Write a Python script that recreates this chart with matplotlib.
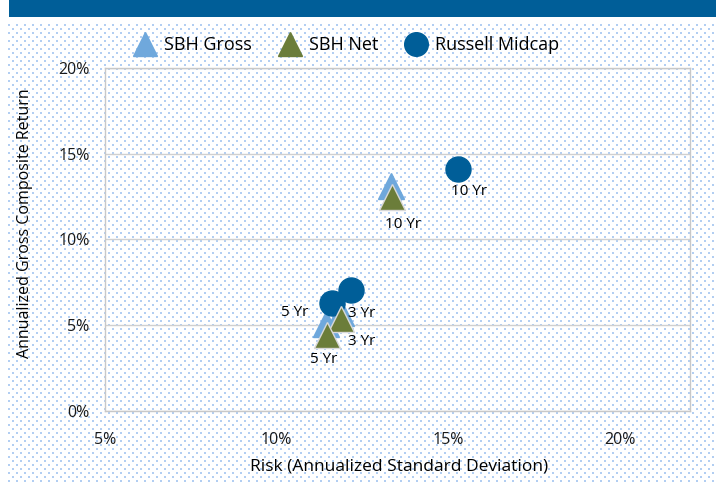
import matplotlib
matplotlib.use("Agg")
import matplotlib.pyplot as plt
from matplotlib.lines import Line2D
from matplotlib.ticker import FuncFormatter
import numpy as np

# risk (x) and return (y) in percent, order: 3 Yr, 5 Yr, 10 Yr
periods = ["3 Yr", "5 Yr", "10 Yr"]
gross_risk = [11.88, 11.45, 13.34]
gross_ret = [5.7, 5.09, 13.1]
net_risk = [11.88, 11.46, 13.37]
net_ret = [5.39, 4.43, 12.48]
russell_risk = [12.17, 11.61, 15.3]
russell_ret = [7.05, 6.28, 14.09]

x_ticks = [5, 10, 15, 20]
y_ticks = [0, 5, 10, 15, 20]

dark_blue = "#005e98"
light_blue = "#6fa8dc"
green = "#6b7d3a"
font = "Open Sans"
plt.rcParams["font.family"] = [font, "DejaVu Sans"]

W, H = 716, 482
fig = plt.figure(figsize=(W / 100, H / 100), dpi=100, facecolor="white")

# dotted background pattern + banner
img = np.ones((H, W, 3))
yy, xx = np.mgrid[0:H, 0:W]
dots = (yy % 4 < 2) & (((xx + 4 * ((yy // 4) % 2)) % 8) < 2) & (xx >= 8) & (yy >= 22)
img[dots] = (0.70, 0.81, 0.95)
img[0:17, 9:] = matplotlib.colors.to_rgb(dark_blue)
fig.figimage(img, xo=0, yo=0, origin="upper", zorder=0)

ax = fig.add_axes([105 / W, 1 - 411 / H, 585 / W, 343 / H], zorder=2)
ax.patch.set_alpha(0)
ax.set_xlim(5, 22.05)
ax.set_ylim(0, 20)
ax.set_xticks(x_ticks)
ax.set_yticks(y_ticks)
pct = FuncFormatter(lambda v, p: f"{v:.0f}%")
ax.xaxis.set_major_formatter(pct)
ax.yaxis.set_major_formatter(pct)
ax.tick_params(length=0, labelsize=11.5, colors="#1a1a1a")
ax.tick_params(axis="x", pad=15)
ax.tick_params(axis="y", pad=11)
ax.grid(axis="y", color="#d0d0d0", lw=1)
ax.set_axisbelow(True)
for s in ax.spines.values():
    s.set_color("#c8c8c8")
    s.set_linewidth(1)

ms = 19
ax.plot(gross_risk, gross_ret, "^", ms=ms, color=light_blue, mec=light_blue, zorder=3)
ax.plot(russell_risk, russell_ret, "o", ms=18, color=dark_blue, mec=dark_blue, zorder=4)
ax.plot(net_risk, net_ret, "^", ms=ms, color=green, mec="#d8d8d8", mew=1, zorder=5)

# data labels (offsets in pixels)
russell_off = [(11, -23), (-37, -9), (11, -22)]
net_off = [(21, -23), (-3, -24), (11, -28)]
for i, p in enumerate(periods):
    ax.annotate(p, (russell_risk[i], russell_ret[i]), xytext=russell_off[i],
                textcoords="offset pixels", ha="center", va="center", fontsize=11, zorder=6)
    ax.annotate(p, (net_risk[i], net_ret[i]), xytext=net_off[i],
                textcoords="offset pixels", ha="center", va="center", fontsize=11, zorder=6)

ax.set_xlabel("Risk (Annualized Standard Deviation)", fontsize=12.5, va="center")
ax.xaxis.set_label_coords(0.503, -0.163)
ax.set_ylabel("Annualized Gross Composite Return", fontsize=11.5, va="center")
ax.yaxis.set_label_coords(-0.137, 0.548)

handles = [
    Line2D([], [], ls="", marker="^", ms=17, color=light_blue, label="SBH Gross"),
    Line2D([], [], ls="", marker="^", ms=17, color=green, label="SBH Net"),
    Line2D([], [], ls="", marker="o", ms=17, color=dark_blue, label="Russell Midcap"),
]
fig.legend(handles=handles, loc="center", bbox_to_anchor=(347 / W, 1 - 45 / H), ncol=3,
           frameon=False, fontsize=13, handletextpad=0.45, columnspacing=1.5, handlelength=1.2)

fig.savefig("out.png", dpi=100)
